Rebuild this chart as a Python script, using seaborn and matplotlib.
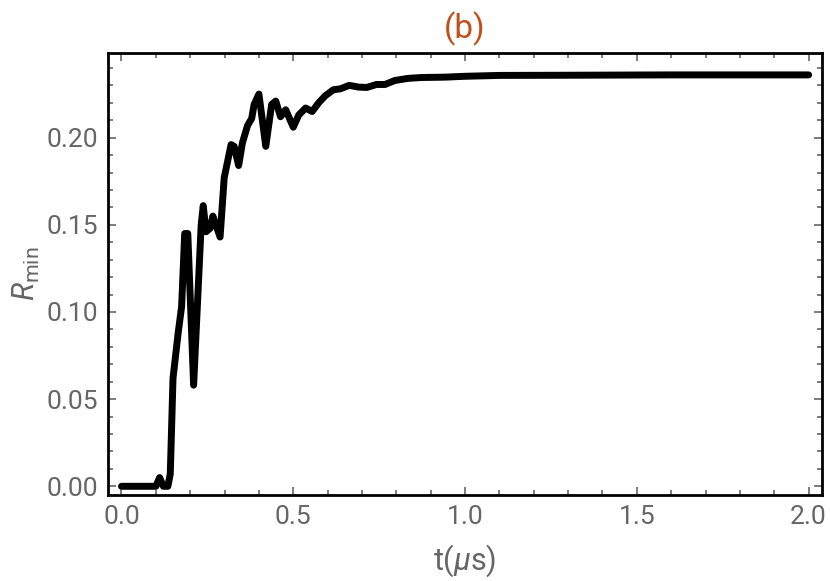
import numpy as np
import pandas as pd
import seaborn as sns
import matplotlib.pyplot as plt
from matplotlib.ticker import MultipleLocator

# values
t_us = [0.0, 0.10, 0.111, 0.122, 0.135, 0.142, 0.15, 0.165, 0.175, 0.184,
        0.193, 0.21, 0.232, 0.238, 0.246, 0.258, 0.266, 0.287, 0.299, 0.319,
        0.328, 0.341, 0.352, 0.367, 0.379, 0.386, 0.40, 0.42, 0.437, 0.449,
        0.463, 0.478, 0.50, 0.516, 0.536, 0.555, 0.574, 0.593, 0.617, 0.637,
        0.663, 0.69, 0.714, 0.742, 0.767, 0.796, 0.834, 0.873, 0.94, 1.0,
        1.1, 1.3, 1.6, 2.0]
r_min = [0.0, 0.0, 0.005, 0.0, 0.0, 0.007, 0.062, 0.088, 0.103, 0.145,
         0.145, 0.058, 0.150, 0.161, 0.146, 0.148, 0.155, 0.143, 0.177, 0.196,
         0.195, 0.184, 0.197, 0.207, 0.211, 0.219, 0.225, 0.195, 0.219, 0.221,
         0.212, 0.216, 0.206, 0.213, 0.217, 0.215, 0.220, 0.224, 0.2275, 0.228,
         0.230, 0.229, 0.2288, 0.2305, 0.2305, 0.2328, 0.234, 0.2345, 0.2347, 0.2352,
         0.2357, 0.2358, 0.236, 0.236]

df = pd.DataFrame({'t': t_us, 'R': r_min})

sns.set_style('ticks')
plt.rcParams['font.family'] = ['Roboto', 'DejaVu Sans']
plt.rcParams['mathtext.fontset'] = 'custom'
plt.rcParams['mathtext.rm'] = 'Roboto'
plt.rcParams['mathtext.it'] = 'Roboto:italic'

gray = '#666666'

fig = plt.figure(figsize=(8.3, 5.81), dpi=100)
ax = fig.add_axes([0.1298, 0.148, 0.861, 0.7606])

sns.lineplot(data=df, x='t', y='R', color='black', linewidth=5, ax=ax)

ax.set_xlim(-0.04, 2.04)
ax.set_ylim(-0.005, 0.2485)
ax.xaxis.set_major_locator(MultipleLocator(0.5))
ax.xaxis.set_minor_locator(MultipleLocator(0.1))
ax.yaxis.set_major_locator(MultipleLocator(0.05))
ax.yaxis.set_minor_locator(MultipleLocator(0.01))
ax.xaxis.set_major_formatter(plt.FuncFormatter(lambda v, p: f'{v:.1f}'))
ax.yaxis.set_major_formatter(plt.FuncFormatter(lambda v, p: f'{v:.2f}'))

ax.tick_params(which='both', direction='in', top=True, right=True,
               color=gray, labelcolor=gray, labelsize=19)
ax.tick_params(which='major', length=6, width=1.2, pad=7)
ax.tick_params(which='minor', length=3.5, width=1.2)
for s in ax.spines.values():
    s.set_color('black')
    s.set_linewidth(2)

ax.set_xlabel(r't($\mu$s)', fontsize=22, color=gray, labelpad=10)
ax.set_ylabel(r'$R_{\mathrm{min}}$', fontsize=22, color=gray, labelpad=3)
ax.set_title('(b)', fontsize=24, color='#c0501a', pad=11)

fig.savefig('out.png', dpi=100)
plt.close(fig)
